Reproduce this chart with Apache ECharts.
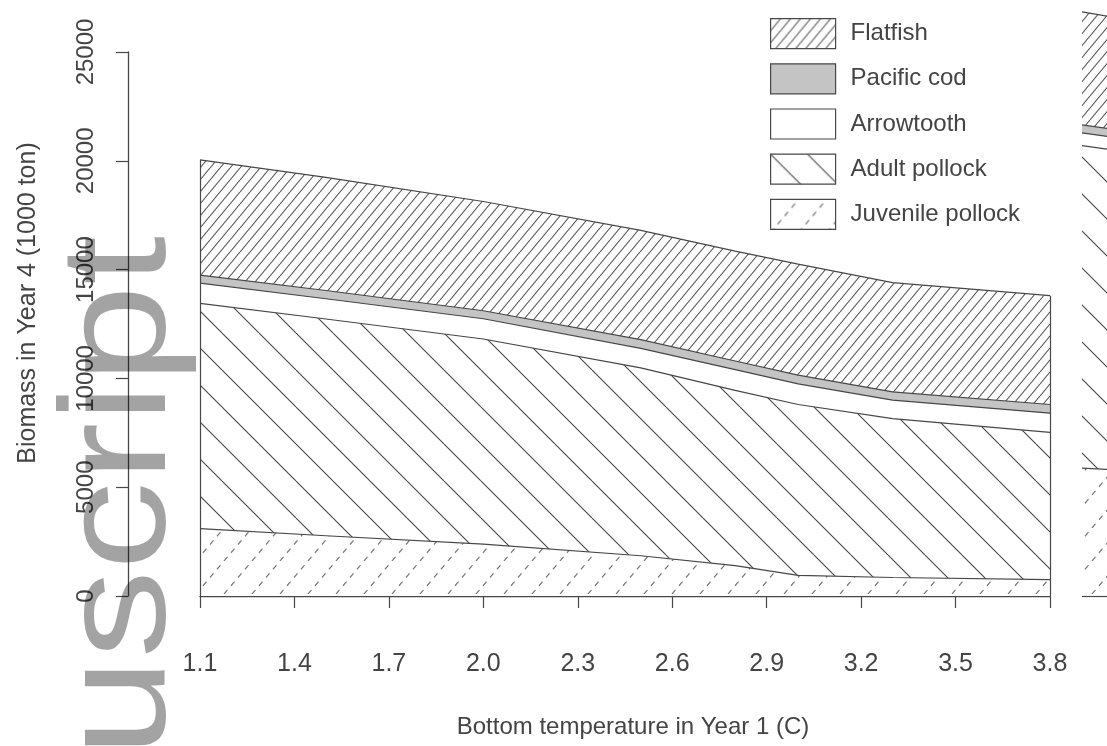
<!DOCTYPE html>
<html><head><meta charset="utf-8">
<script src="https://cdn.jsdelivr.net/npm/echarts@6/dist/echarts.min.js"></script>
<style>html,body{margin:0;padding:0;background:#fff}#c{width:1107px;height:746px}</style>
</head><body><div id="c"></div>
<script>
// ---- data (biomass in 1000 ton, per layer, bottom to top) ----
const temps      = [1.1, 1.5, 2.0, 2.5, 2.8, 3.0, 3.3, 3.8];
const juvenile   = [3100, 2770, 2380, 1850, 1400, 950, 850, 750];
const adult      = [10350, 9960, 9430, 8630, 8050, 7850, 7300, 6770];
const arrowtooth = [930, 930, 930, 900, 950, 950, 850, 880];
const cod        = [370, 380, 370, 400, 400, 400, 380, 400];
const flatfish   = [5290, 5200, 5020, 5020, 5050, 5100, 5020, 5000];
// partially visible neighbouring panel (right edge)
const temps2      = [1.1, 1.5];
const juvenile2   = [5880, 5800];
const adult2      = [14820, 14700];
const arrowtooth2 = [580, 580];
const cod2        = [370, 370];
const flatfish2   = [5190, 5150];
const xTicks = [1.1, 1.4, 1.7, 2.0, 2.3, 2.6, 2.9, 3.2, 3.5, 3.8];
const legendNames = ['Flatfish', 'Pacific cod', 'Arrowtooth', 'Adult pollock', 'Juvenile pollock'];

const FONT = '"Liberation Sans", Arial, Helvetica, sans-serif';
const LINE = '#474747';

function makeHatch(w, h, dir, color, lw, dashed) {
  const c = document.createElement('canvas');
  c.width = w; c.height = h;
  const g = c.getContext('2d');
  g.fillStyle = '#fff'; g.fillRect(0, 0, w, h);
  g.strokeStyle = color; g.lineWidth = lw;
  if (dashed) { const L = Math.sqrt(w * w + h * h); g.setLineDash([L / 8, L / 8]); }
  for (let k = -1; k <= 1; k++) {
    g.beginPath();
    if (dir === '/') { g.moveTo(k * w, h); g.lineTo(k * w + w, 0); }
    else { g.moveTo(k * w, 0); g.lineTo(k * w + w, h); }
    g.stroke();
  }
  return { image: c, repeat: 'repeat' };
}
const pat = {
  flat: makeHatch(10, 12, '/', '#555555', 1.1, false),
  cod: '#c4c4c4',
  arrow: '#ffffff',
  adult: makeHatch(37, 37, '\\', '#444444', 1.1, false),
  juv: makeHatch(28, 33, '/', '#7a7a7a', 1.2, true)
};

// cumulative tops of each band (bottom layer first)
function cumulate(layers) {
  const out = []; let run = null;
  layers.forEach((arr) => {
    run = arr.map((v, i) => (run ? run[i] : 0) + v);
    out.push(run);
  });
  return out;
}
const tops = cumulate([juvenile, adult, arrowtooth, cod, flatfish]);
const tops2 = cumulate([juvenile2, adult2, arrowtooth2, cod2, flatfish2]);
const fills = [pat.juv, pat.adult, pat.arrow, pat.cod, pat.flat];
const names = [legendNames[4], legendNames[3], legendNames[2], legendNames[1], legendNames[0]];

function band(name, xs, vals, fill, axis, extra) {
  return Object.assign({
    type: 'line', name: name, xAxisIndex: axis, yAxisIndex: axis,
    data: xs.map((t, i) => [t, vals[i]]),
    symbol: 'none', showSymbol: false, smooth: false, clip: axis === 0,
    lineStyle: { color: LINE, width: 1.2 },
    itemStyle: { color: LINE },
    areaStyle: { color: fill, opacity: 1, origin: 'start' },
    emphasis: { disabled: true }, silent: true, animation: false
  }, extra || {});
}
const edgeStyle = { color: LINE, width: 1.2, type: 'solid' };
function edgeLines(xs, total, withRight) {
  const n = xs.length;
  const d = [
    [{ coord: [xs[0], 0] }, { coord: [xs[0], total[0]] }],
    [{ coord: [xs[0], 0] }, { coord: [xs[n - 1], 0] }]
  ];
  if (withRight) d.push([{ coord: [xs[n - 1], 0] }, { coord: [xs[n - 1], total[n - 1]] }]);
  return { markLine: { silent: true, symbol: 'none', animation: false, label: { show: false },
    lineStyle: edgeStyle, data: d } };
}

const series = [];
for (let k = 4; k >= 0; k--) {
  series.push(band(names[k], temps, tops[k], fills[k], 0,
    k === 0 ? edgeLines(temps, tops[4], true) : null));
}
for (let k = 4; k >= 0; k--) {
  series.push(band('p2 ' + names[k], temps2, tops2[k], fills[k], 1,
    k === 0 ? edgeLines(temps2, tops2[4], false) : null));
}

const axisText = { color: '#444', fontFamily: FONT };
const option = {
  backgroundColor: '#fff',
  animation: false,
  grid: [
    { left: 200, right: 57, top: 52, bottom: 150 },
    { left: 1082, width: 850, top: 52, bottom: 150 }
  ],
  xAxis: [
    {
      type: 'value', min: 1.1, max: 3.8, offset: 24, gridIndex: 0,
      axisLine: { lineStyle: { color: LINE, width: 1.3 } },
      axisTick: { length: 12, customValues: xTicks, lineStyle: { color: LINE, width: 1.2 } },
      axisLabel: Object.assign({ customValues: xTicks, fontSize: 25, margin: 32,
        formatter: (v) => v.toFixed(1) }, axisText),
      splitLine: { show: false }
    },
    { type: 'value', min: 1.1, max: 3.8, gridIndex: 1, show: false }
  ],
  yAxis: [
    {
      type: 'value', min: 0, max: 25000, interval: 5000, offset: 72, gridIndex: 0,
      axisLine: { show: true, lineStyle: { color: LINE, width: 1.3 } },
      axisTick: { show: true, length: 12, lineStyle: { color: LINE, width: 1.2 } },
      axisLabel: Object.assign({ rotate: 90, fontSize: 24, margin: 30,
        formatter: (v) => String(v) }, axisText),
      splitLine: { show: false }
    },
    { type: 'value', min: 0, max: 25000, gridIndex: 1, show: false }
  ],
  legend: {
    orient: 'vertical', left: 765, top: 13, itemWidth: 65, itemHeight: 30, itemGap: 14,
    icon: 'rect', selectedMode: false,
    textStyle: { fontSize: 24, color: '#444', fontFamily: FONT, padding: [0, 0, 0, 10] },
    data: [
      { name: legendNames[0], itemStyle: { color: pat.flat, borderColor: LINE, borderWidth: 1.2 } },
      { name: legendNames[1], itemStyle: { color: pat.cod, borderColor: LINE, borderWidth: 1.2 } },
      { name: legendNames[2], itemStyle: { color: pat.arrow, borderColor: LINE, borderWidth: 1.2 } },
      { name: legendNames[3], itemStyle: { color: pat.adult, borderColor: LINE, borderWidth: 1.2 } },
      { name: legendNames[4], itemStyle: { color: pat.juv, borderColor: LINE, borderWidth: 1.2 } }
    ]
  },
  graphic: [
    {
      type: 'text', x: 28, y: 303, rotation: Math.PI / 2, silent: true,
      style: { text: 'Biomass in Year 4 (1000 ton)', font: '25px ' + FONT, fill: '#444',
        textAlign: 'center', textVerticalAlign: 'middle', align: 'center', verticalAlign: 'middle' }
    },
    {
      type: 'text', x: 633, y: 727, silent: true,
      style: { text: 'Bottom temperature in Year 1 (C)', font: '24px ' + FONT, fill: '#444',
        textAlign: 'center', textVerticalAlign: 'middle', align: 'center', verticalAlign: 'middle' }
    },
    {
      type: 'text', x: 124, y: 236, rotation: Math.PI / 2, scaleX: 1.04, scaleY: 0.88,
      silent: true, z: 100,
      style: { text: 'uscript', font: '170px ' + FONT, fill: 'rgba(0,0,0,0.36)',
        textAlign: 'right', textVerticalAlign: 'middle', align: 'right', verticalAlign: 'middle' }
    }
  ],
  series: series
};
const chart = echarts.init(document.getElementById('c'), null, { renderer: 'canvas' });
chart.setOption(option);
</script>
</body></html>
